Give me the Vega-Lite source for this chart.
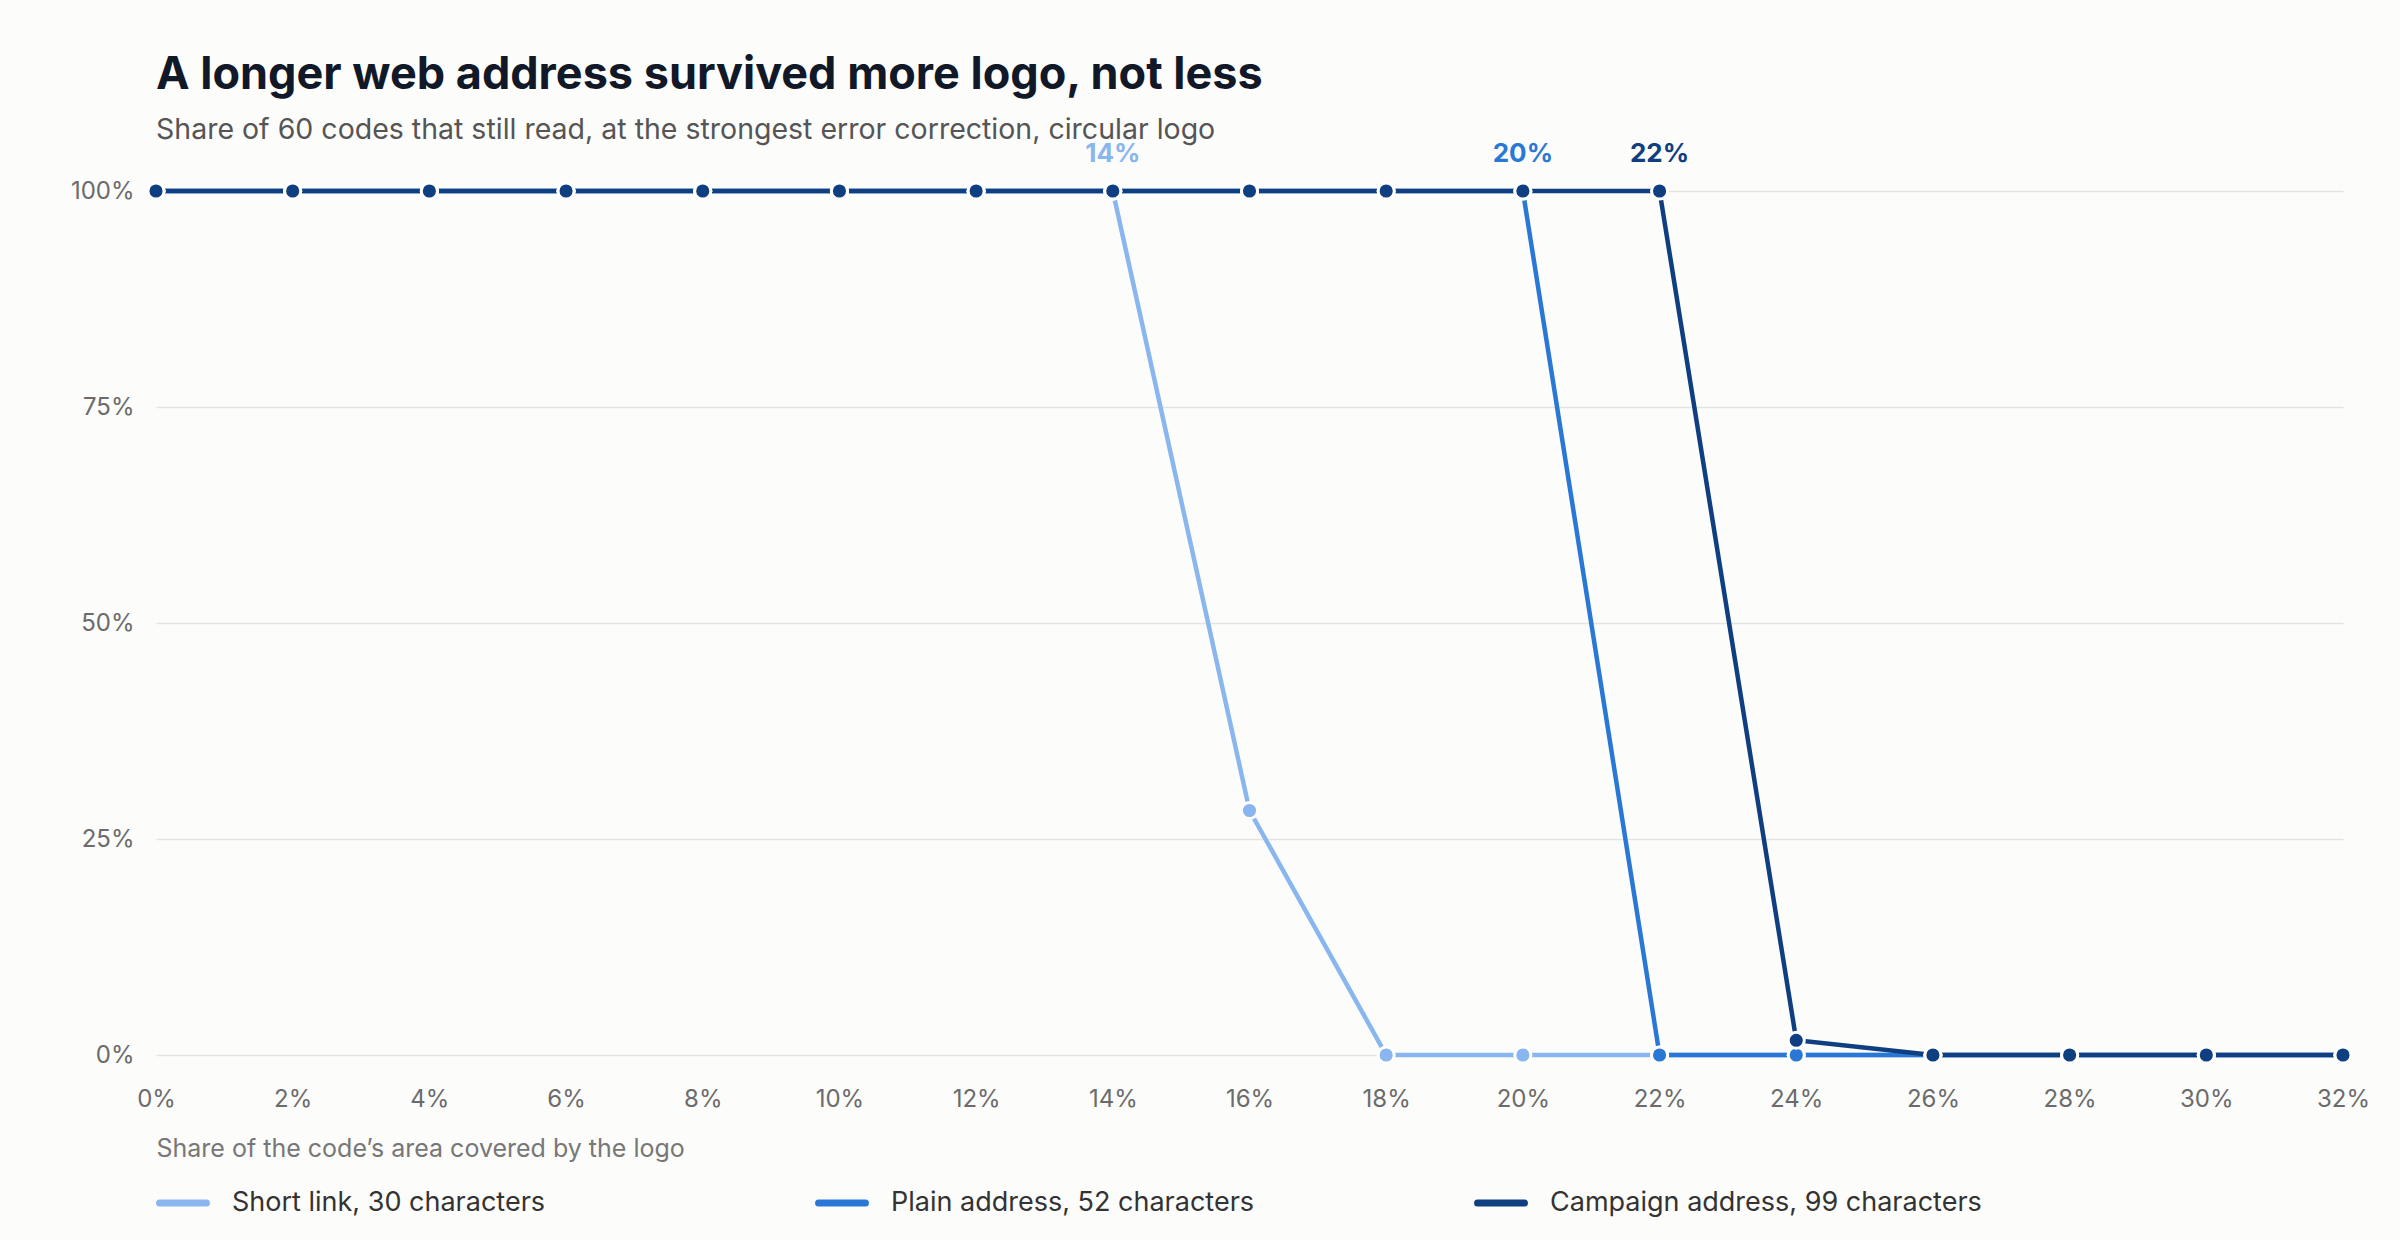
{
  "$schema": "https://vega.github.io/schema/vega-lite/v6.json",
  "width": 2187,
  "height": 864,
  "autosize": {"type": "none"},
  "padding": {"left": 156, "top": 191, "right": 57, "bottom": 185},
  "background": "#fcfcfb",
  "title": {
    "text": "A longer web address survived more logo, not less",
    "subtitle": "Share of 60 codes that still read, at the strongest error correction, circular logo",
    "anchor": "start",
    "frame": "group",
    "offset": -3,
    "font": "Inter",
    "fontSize": 45,
    "fontWeight": 700,
    "color": "#111827",
    "subtitleFont": "Inter",
    "subtitleFontSize": 28.5,
    "subtitleColor": "#555555",
    "subtitlePadding": 18
  },
  "datasets": {
    "survival": [
      {"series": "Short link, 30 characters", "logo": 0, "share": 1},
      {"series": "Short link, 30 characters", "logo": 2, "share": 1},
      {"series": "Short link, 30 characters", "logo": 4, "share": 1},
      {"series": "Short link, 30 characters", "logo": 6, "share": 1},
      {"series": "Short link, 30 characters", "logo": 8, "share": 1},
      {"series": "Short link, 30 characters", "logo": 10, "share": 1},
      {"series": "Short link, 30 characters", "logo": 12, "share": 1},
      {"series": "Short link, 30 characters", "logo": 14, "share": 1},
      {"series": "Short link, 30 characters", "logo": 16, "share": 0.283},
      {"series": "Short link, 30 characters", "logo": 18, "share": 0},
      {"series": "Short link, 30 characters", "logo": 20, "share": 0},
      {"series": "Short link, 30 characters", "logo": 22, "share": 0},
      {"series": "Short link, 30 characters", "logo": 24, "share": 0},
      {"series": "Short link, 30 characters", "logo": 26, "share": 0},
      {"series": "Short link, 30 characters", "logo": 28, "share": 0},
      {"series": "Short link, 30 characters", "logo": 30, "share": 0},
      {"series": "Short link, 30 characters", "logo": 32, "share": 0},
      {"series": "Plain address, 52 characters", "logo": 0, "share": 1},
      {"series": "Plain address, 52 characters", "logo": 2, "share": 1},
      {"series": "Plain address, 52 characters", "logo": 4, "share": 1},
      {"series": "Plain address, 52 characters", "logo": 6, "share": 1},
      {"series": "Plain address, 52 characters", "logo": 8, "share": 1},
      {"series": "Plain address, 52 characters", "logo": 10, "share": 1},
      {"series": "Plain address, 52 characters", "logo": 12, "share": 1},
      {"series": "Plain address, 52 characters", "logo": 14, "share": 1},
      {"series": "Plain address, 52 characters", "logo": 16, "share": 1},
      {"series": "Plain address, 52 characters", "logo": 18, "share": 1},
      {"series": "Plain address, 52 characters", "logo": 20, "share": 1},
      {"series": "Plain address, 52 characters", "logo": 22, "share": 0},
      {"series": "Plain address, 52 characters", "logo": 24, "share": 0},
      {"series": "Plain address, 52 characters", "logo": 26, "share": 0},
      {"series": "Plain address, 52 characters", "logo": 28, "share": 0},
      {"series": "Plain address, 52 characters", "logo": 30, "share": 0},
      {"series": "Plain address, 52 characters", "logo": 32, "share": 0},
      {"series": "Campaign address, 99 characters", "logo": 0, "share": 1},
      {"series": "Campaign address, 99 characters", "logo": 2, "share": 1},
      {"series": "Campaign address, 99 characters", "logo": 4, "share": 1},
      {"series": "Campaign address, 99 characters", "logo": 6, "share": 1},
      {"series": "Campaign address, 99 characters", "logo": 8, "share": 1},
      {"series": "Campaign address, 99 characters", "logo": 10, "share": 1},
      {"series": "Campaign address, 99 characters", "logo": 12, "share": 1},
      {"series": "Campaign address, 99 characters", "logo": 14, "share": 1},
      {"series": "Campaign address, 99 characters", "logo": 16, "share": 1},
      {"series": "Campaign address, 99 characters", "logo": 18, "share": 1},
      {"series": "Campaign address, 99 characters", "logo": 20, "share": 1},
      {"series": "Campaign address, 99 characters", "logo": 22, "share": 1},
      {"series": "Campaign address, 99 characters", "logo": 24, "share": 0.017},
      {"series": "Campaign address, 99 characters", "logo": 26, "share": 0},
      {"series": "Campaign address, 99 characters", "logo": 28, "share": 0},
      {"series": "Campaign address, 99 characters", "logo": 30, "share": 0},
      {"series": "Campaign address, 99 characters", "logo": 32, "share": 0}
    ],
    "thresholds": [
      {"series": "Short link, 30 characters", "logo": 14, "share": 1, "label": "14%"},
      {"series": "Plain address, 52 characters", "logo": 20, "share": 1, "label": "20%"},
      {"series": "Campaign address, 99 characters", "logo": 22, "share": 1, "label": "22%"}
    ]
  },
  "encoding": {
    "x": {
      "field": "logo",
      "type": "quantitative",
      "scale": {"domain": [0, 32], "nice": false},
      "axis": {
        "values": [0, 2, 4, 6, 8, 10, 12, 14, 16, 18, 20, 22, 24, 26, 28, 30, 32],
        "labelExpr": "datum.value + '%'",
        "labelFlush": false,
        "grid": false,
        "domain": false,
        "ticks": false,
        "labelPadding": 32,
        "labelFont": "Inter",
        "labelFontSize": 24,
        "labelColor": "#6b6b6b",
        "title": "Share of the code’s area covered by the logo",
        "titleAnchor": "start",
        "titleFont": "Inter",
        "titleFontSize": 25,
        "titleFontWeight": "normal",
        "titleColor": "#777777",
        "titlePadding": 25
      }
    },
    "y": {
      "field": "share",
      "type": "quantitative",
      "scale": {"domain": [0, 1]},
      "axis": {
        "values": [0, 0.25, 0.5, 0.75, 1],
        "format": ".0%",
        "grid": true,
        "gridColor": "#e4e4e2",
        "gridWidth": 1.5,
        "domain": false,
        "ticks": false,
        "labelPadding": 22,
        "labelFont": "Inter",
        "labelFontSize": 24,
        "labelColor": "#6b6b6b",
        "title": null
      }
    },
    "color": {
      "field": "series",
      "type": "nominal",
      "sort": ["Short link, 30 characters", "Plain address, 52 characters", "Campaign address, 99 characters"],
      "scale": {
        "domain": ["Short link, 30 characters", "Plain address, 52 characters", "Campaign address, 99 characters"],
        "range": ["#89b6ee", "#2a78d6", "#0f3f80"]
      },
      "legend": {
        "orient": "none",
        "legendX": 0,
        "legendY": 985,
        "direction": "horizontal",
        "columns": 3,
        "gridAlign": "all",
        "columnPadding": 140,
        "title": null,
        "symbolType": "stroke",
        "symbolSize": 2200,
        "symbolStrokeWidth": 7,
        "labelFont": "Inter",
        "labelFontSize": 27,
        "labelColor": "#333333",
        "labelOffset": 22,
        "labelLimit": 600,
        "encode": {"symbols": {"update": {"strokeCap": {"value": "round"}}}}
      }
    }
  },
  "layer": [
    {
      "data": {"name": "survival"},
      "mark": {"type": "line", "strokeWidth": 4.5},
      "encoding": {"detail": {"field": "series"}}
    },
    {
      "data": {"name": "survival"},
      "mark": {"type": "point", "shape": "circle", "filled": true, "size": 260, "stroke": "white", "strokeWidth": 3, "opacity": 1}
    },
    {
      "data": {"name": "thresholds"},
      "mark": {"type": "text", "dy": -37, "font": "Inter", "fontSize": 26, "fontWeight": 700, "baseline": "middle"},
      "encoding": {"text": {"field": "label"}}
    }
  ],
  "config": {"view": {"stroke": null}}
}
